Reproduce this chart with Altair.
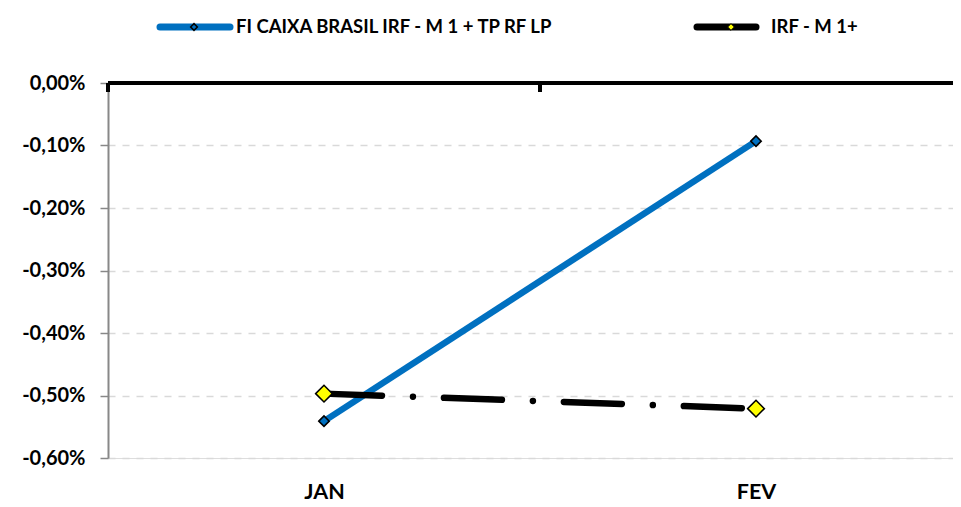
import altair as alt
import pandas as pd

months = ["JAN", "FEV"]
fund_name = "FI CAIXA BRASIL IRF - M 1 + TP RF LP"
bench_name = "IRF - M 1+"
fund_values = [-0.00541, -0.00093]
bench_values = [-0.00497, -0.00521]
y_ticks = [0, -0.001, -0.002, -0.003, -0.004, -0.005, -0.006]

FONT = "Lato"
idx = list(range(len(months)))
fund = pd.DataFrame({"i": idx, "month": months, "v": fund_values})
bench = pd.DataFrame({"i": idx, "month": months, "v": bench_values})

xscale = alt.Scale(domain=[-0.5, 1.456], nice=False, zero=False)
yscale = alt.Scale(domain=[-0.006, 0], nice=False, zero=False)

label_expr = "(datum.value < 0 ? '-' : '') + replace(format(abs(datum.value), '.2%'), '.', ',')"

x_axis = alt.Axis(values=idx, labelExpr="datum.value == 0 ? 'JAN' : 'FEV'", title=None,
                  domain=False, ticks=False, grid=False, labelFont=FONT, labelFontSize=21.5,
                  labelFontWeight="bold", labelColor="black", labelPadding=23)
y_axis = alt.Axis(values=y_ticks, labelExpr=label_expr, title=None, domainColor="#888888",
                  domainWidth=2, tickColor="#888888", tickSize=8, tickWidth=1.5,
                  gridColor="#d9d9d9", gridDash=[7, 7], gridWidth=1.5,
                  labelFont=FONT, labelFontSize=20, labelFontWeight="bold",
                  labelColor="black", labelPadding=15)

base_x = alt.X("i:Q", scale=xscale, axis=x_axis)

grid = alt.Chart(fund).mark_point(opacity=0).encode(
    x=base_x, y=alt.Y("v:Q", scale=yscale, axis=y_axis))

zero_line = alt.Chart(pd.DataFrame({"z": [0]})).mark_rule(color="black", strokeWidth=4).encode(
    y=alt.Y("z:Q", scale=yscale))

tick_df = pd.DataFrame({"t": [-0.5, 0.5]})
zero_ticks = alt.Chart(tick_df).mark_rule(color="black", strokeWidth=4).encode(
    x=alt.X("t:Q", scale=xscale), y=alt.value(0), y2=alt.value(9))

fund_line = alt.Chart(fund).mark_line(color="#0070C0", strokeWidth=6.5).encode(
    x=alt.X("i:Q", scale=xscale), y=alt.Y("v:Q", scale=yscale))
fund_pts = alt.Chart(fund).mark_point(shape="diamond", filled=True, fill="#0070C0",
                                      stroke="black", strokeWidth=1.5, size=110, opacity=1).encode(
    x=alt.X("i:Q", scale=xscale), y=alt.Y("v:Q", scale=yscale))

bench_line = alt.Chart(bench).mark_line(color="black", strokeWidth=6.5, strokeCap="round",
                                        strokeDash=[58, 31, 0.01, 31]).encode(
    x=alt.X("i:Q", scale=xscale), y=alt.Y("v:Q", scale=yscale))
bench_pts = alt.Chart(bench).mark_point(shape="diamond", filled=True, fill="#FFFF00",
                                        stroke="black", strokeWidth=1.5, size=280, opacity=1).encode(
    x=alt.X("i:Q", scale=xscale), y=alt.Y("v:Q", scale=yscale))

# legend (top)
leg_y = -56
leg1_line = alt.Chart(pd.DataFrame({"a": [0]})).mark_rule(color="#0070C0", strokeWidth=7, strokeCap="round").encode(
    x=alt.value(52), x2=alt.value(122), y=alt.value(leg_y))
leg1_pt = alt.Chart(pd.DataFrame({"a": [0]})).mark_point(shape="diamond", filled=True, fill="#0070C0",
                                                         stroke="black", strokeWidth=1.5, size=45, opacity=1).encode(
    x=alt.value(86), y=alt.value(leg_y))
leg1_txt = alt.Chart(pd.DataFrame({"a": [fund_name]})).mark_text(
    align="left", baseline="middle", font=FONT, fontSize=18.5, fontWeight="bold", color="black").encode(
    x=alt.value(128), y=alt.value(leg_y), text="a:N")
leg2_line = alt.Chart(pd.DataFrame({"a": [0]})).mark_rule(color="black", strokeWidth=7, strokeCap="round").encode(
    x=alt.value(589), x2=alt.value(648), y=alt.value(leg_y))
leg2_pt = alt.Chart(pd.DataFrame({"a": [0]})).mark_point(shape="diamond", filled=True, fill="#FFFF00",
                                                         stroke="black", strokeWidth=1, size=45, opacity=1).encode(
    x=alt.value(623), y=alt.value(leg_y))
leg2_txt = alt.Chart(pd.DataFrame({"a": [bench_name]})).mark_text(
    align="left", baseline="middle", font=FONT, fontSize=18.5, fontWeight="bold", color="black").encode(
    x=alt.value(663), y=alt.value(leg_y), text="a:N")

chart = alt.layer(
    grid, zero_line, zero_ticks, fund_line, bench_line, fund_pts, bench_pts,
    leg1_line, leg1_pt, leg1_txt, leg2_line, leg2_pt, leg2_txt
).properties(
    width=845, height=375,
    autosize=alt.AutoSizeParams(type="none"),
    padding={"left": 100, "top": 75, "right": 0, "bottom": 49},
).configure_view(stroke=None, clip=False).configure(background="white")

chart.save("out.html", embed_options={"renderer": "svg", "actions": False})
